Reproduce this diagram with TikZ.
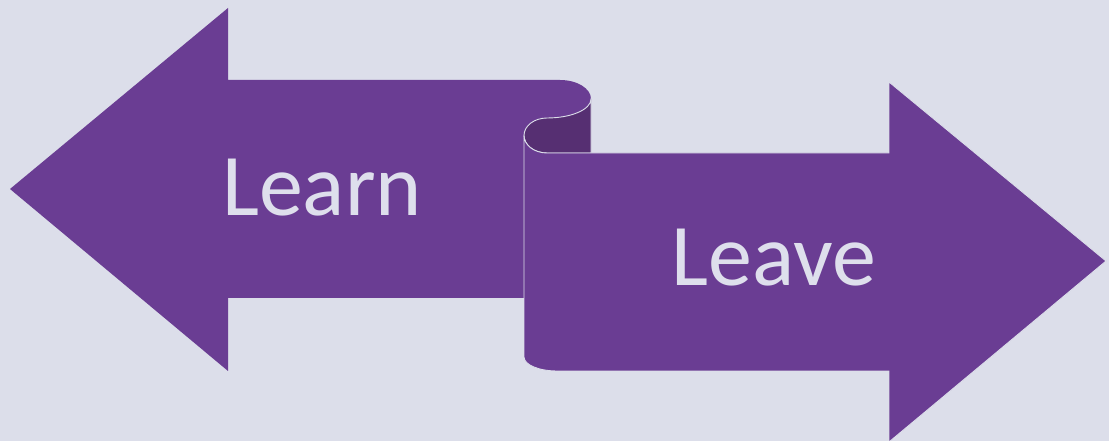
\documentclass[tikz,border=0pt]{standalone}
\usepackage{fontspec}
\setmainfont{Carlito}
\definecolor{bgc}{HTML}{DCDEEA}
\definecolor{mainp}{HTML}{6A3D93}
\definecolor{darkp}{HTML}{562F72}
\definecolor{txtc}{HTML}{DEDFEC}
\begin{document}
\begin{tikzpicture}[x=1pt,y=1pt,
  face/.style={fill=mainp},
  edge/.style={draw=bgc,line width=0.9pt},
  label/.style={text=txtc,font=\fontsize{88}{100}\selectfont,inner sep=0pt,anchor=base}]
  \fill[bgc] (0,0) rectangle (1109,441);
  \useasboundingbox (0,0) rectangle (1109,441);
  % left-pointing ribbon arrow
  \path[face] (10,252) -- (228,433) -- (228,361) -- (560,361)
    arc[start angle=90,end angle=0,x radius=31,y radius=19]
    arc[start angle=0,end angle=-90,x radius=44,y radius=19] -- (547,323)
    arc[start angle=90,end angle=180,x radius=23,y radius=17.5]
    -- (524,143) -- (228,143) -- (228,70) -- cycle;
  % inner side of the roll
  \path[fill=darkp,edge] (547,323)
    arc[start angle=90,end angle=270,x radius=23,y radius=17.5]
    -- (591,288) -- (591,342)
    arc[start angle=0,end angle=-90,x radius=44,y radius=19] -- cycle;
  % right-pointing ribbon arrow
  \path[face,edge] (524,305.5)
    arc[start angle=180,end angle=270,x radius=23,y radius=17.5]
    -- (889,288) -- (889,359) -- (1106,180) -- (889,-1) -- (889,70) -- (557,70)
    arc[start angle=270,end angle=180,x radius=33,y radius=14] -- cycle;
  \node[label] (learn) at (322,225) {Learn};
  \node[label] (leave) at (774,155) {Leave};
\end{tikzpicture}
\end{document}
